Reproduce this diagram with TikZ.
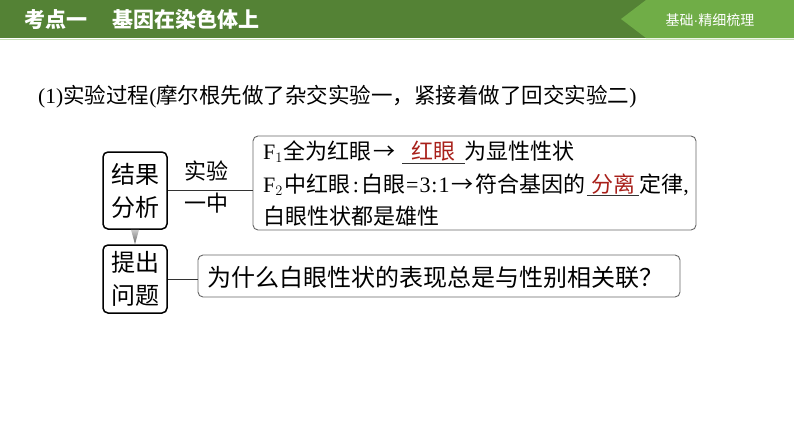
\documentclass[tikz,border=0pt]{standalone}
\usepackage{fontspec}
\setmainfont{Liberation Serif}
\newfontfamily\cjk{Noto Sans CJK SC}
\newcommand{\zh}[1]{{\cjk #1}}
\definecolor{bardark}{HTML}{548235}
\definecolor{barlight}{HTML}{70AD47}
\definecolor{ansred}{HTML}{A8201A}

\begin{document}
\begin{tikzpicture}[x=1pt, y=-1pt,
  tag/.style={draw, line width=1.5pt, rounded corners=5pt, align=center, inner sep=0pt,
    minimum width=64pt, font=\cjk\fontsize{24}{33}\selectfont},
  panel/.style={draw=black!60, line width=0.9pt, rounded corners=5pt, inner sep=0pt},
  row/.style={anchor=base west, inner sep=0pt, font=\fontsize{22}{22}\selectfont},
  answer/.style={row, text=ansred},
  uline/.style={line width=0.8pt, black!80},
  link/.style={line width=1pt, black!80}]
  \useasboundingbox (0,0) rectangle (794,447);

  % header bar
  \fill[bardark] (0,0) rectangle (794,38);
  \fill[barlight] (646,0) -- (794,0) -- (794,38) -- (646,38) -- (621,19) -- cycle;
  \draw[barlight!40, line width=1pt] (0,39) -- (794,39);
  \node[white, anchor=west, font=\cjk\bfseries\fontsize{21}{21}\selectfont] (title) at (21,19)
    {考点一\hspace{25pt}基因在染色体上};
  \node[white, font=\cjk\fontsize{14}{14}\selectfont] (tab) at (710,20)
    {基础{\rmfamily\fontspec{Liberation Sans}·}精细梳理};

  % heading line
  \node[anchor=west, inner sep=0pt, font=\fontsize{21.5}{21.5}\selectfont] (head) at (38,97)
    {(1)\zh{实验过程}(\zh{摩尔根先做了杂交实验一，紧接着做了回交实验二})};

  % left tags
  \node[tag, minimum height=77pt] (res) at (135,190.5) {结果\\分析};
  \node[tag, minimum height=68pt] (ask) at (135,279) {提出\\问题};
  \shade[top color=black!20, bottom color=black!60]
    ([xshift=-4pt]res.south) -- ([xshift=4pt]res.south) -- (ask.north) -- cycle;

  % result panel
  \node[panel, minimum width=443pt, minimum height=94pt] (facts) at (474.5,183) {};
  \draw[link] (res.east) -- (res.east -| facts.west);
  \node[font=\cjk\fontsize{22}{22}\selectfont] (exa) at (206,171) {实验};
  \node[font=\cjk\fontsize{22}{22}\selectfont] (exb) at (206,203) {一中};

  % row 1
  \node[row] (r1a) at (263,159.5) {F$_1$\hspace{1pt}\zh{全为红眼}\hspace{2pt}\zh{→}};
  \node[answer, minimum width=62pt] (r1b) at ([xshift=6pt]r1a.base east) {\zh{红眼}};
  \node[row] (r1c) at (r1b.base east) {\zh{为显性性状}};
  \draw[uline] ([yshift=-3.5pt]r1b.base west) -- ([yshift=-3.5pt]r1b.base east);

  % row 2
  \node[row] (r2a) at (263,192)
    {F$_2$\hspace{2pt}\zh{中红眼}\hspace{2pt}:\hspace{2pt}\zh{白眼}\hspace{1pt}=\hspace{1pt}3\hspace{1pt}:\hspace{1pt}1\hspace{2pt}\zh{→}\hspace{2pt}\zh{符合基因的}};
  \node[answer, minimum width=52pt] (r2b) at ([xshift=1pt]r2a.base east) {\zh{分离}};
  \node[row] (r2c) at (r2b.base east) {\zh{定律},};
  \draw[uline] ([yshift=-3.5pt]r2b.base west) -- ([yshift=-3.5pt]r2b.base east);

  % row 3
  \node[row] (r3a) at (263,224.5) {\zh{白眼性状都是雄性}};

  % question panel
  \node[panel, minimum width=482pt, minimum height=42pt] (quest) at (439,276) {};
  \draw[link] (ask.east) -- (ask.east -| quest.west);
  \node[anchor=west, inner sep=0pt, font=\cjk\fontsize{24}{24}\selectfont] (qtext) at (207,277)
    {为什么白眼性状的表现总是与性别相关联？};
\end{tikzpicture}
\end{document}
